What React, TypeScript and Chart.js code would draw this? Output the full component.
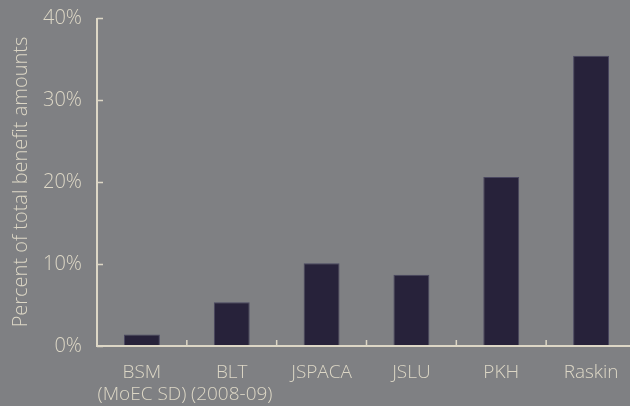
import React, { useEffect, useRef } from "react";
import { Chart, registerables } from "chart.js";

Chart.register(...registerables);

const categories: (string | string[])[] = [
  ["BSM", "(MoEC SD)"],
  ["BLT", "(2008-09)"],
  "JSPACA",
  "JSLU",
  "PKH",
  "Raskin",
];
const shares = [1.4, 5.35, 10.1, 8.7, 20.6, 35.4];
const yTicks = [0, 10, 20, 30, 40];
const yTitle = "Percent of total benefit amounts";

const BG = "#7f8083";
const BAR = "#27223a";
const BAR_EDGE = "#4a4760";
const INK = "#ddd7c6";
const FONT = "'Open Sans', 'Noto Sans', sans-serif";

const axisPlugin = {
  id: "axisMarks",
  afterDraw(chart: any) {
    const { ctx, chartArea, scales } = chart;
    const x = scales.x;
    const y = scales.y;
    ctx.save();
    ctx.strokeStyle = INK;
    ctx.lineWidth = 2;
    ctx.beginPath();
    ctx.moveTo(chartArea.left, chartArea.top);
    ctx.lineTo(chartArea.left, chartArea.bottom);
    ctx.lineTo(chartArea.right + 10, chartArea.bottom);
    ctx.stroke();
    ctx.lineWidth = 1.5;
    ctx.beginPath();
    yTicks.forEach((v) => {
      const py = Math.round(y.getPixelForValue(v)) + 0.5;
      ctx.moveTo(chartArea.left, py);
      ctx.lineTo(chartArea.left + 6, py);
    });
    for (let i = 1; i < categories.length; i++) {
      const px = (x.getPixelForValue(i - 1) + x.getPixelForValue(i)) / 2;
      ctx.moveTo(px, chartArea.bottom);
      ctx.lineTo(px, chartArea.bottom - 6);
    }
    ctx.stroke();
    ctx.restore();
  },
};

export default function App() {
  const ref = useRef<HTMLCanvasElement | null>(null);
  useEffect(() => {
    if (!ref.current) return;
    const chart = new Chart(ref.current, {
      type: "bar",
      data: {
        labels: categories,
        datasets: [
          {
            data: shares,
            backgroundColor: BAR,
            borderColor: BAR_EDGE,
            borderWidth: 1,
            barPercentage: 0.4,
            categoryPercentage: 1,
          },
        ],
      },
      options: {
        responsive: false,
        animation: false,
        layout: { padding: { left: 0, right: 4, top: 18, bottom: 0 } },
        plugins: { legend: { display: false }, tooltip: { enabled: false } },
        scales: {
          x: {
            offset: true,
            grid: { display: false, drawTicks: false },
            border: { display: false },
            ticks: {
              color: INK,
              font: { family: FONT, size: 19, weight: "300", lineHeight: 1.15 },
              padding: 16,
              maxRotation: 0,
              autoSkip: false,
            },
            afterFit(scale: any) {
              scale.height = 60;
              scale.paddingLeft = 0;
              scale.paddingRight = 0;
            },
          },
          y: {
            min: 0,
            max: 40,
            grid: { display: false, drawTicks: false },
            border: { display: false },
            ticks: {
              stepSize: 10,
              color: INK,
              font: { family: FONT, size: 20, weight: "300" },
              padding: 15,
              callback: (v: any) => v + "%",
            },
            title: {
              display: true,
              text: yTitle,
              color: INK,
              font: { family: FONT, size: 20, weight: "300" },
              padding: { top: 9, bottom: 0 },
            },
            afterFit(scale: any) {
              scale.width = 97;
              scale.paddingTop = 0;
              scale.paddingBottom = 0;
            },
          },
        },
      },
      plugins: [axisPlugin],
    });
    return () => chart.destroy();
  }, []);
  return (
    <div
      style={{
        position: "fixed",
        left: 0,
        top: 0,
        width: 630,
        height: 406,
        overflow: "hidden",
        background: BG,
      }}
    >
      <canvas ref={ref} width={640} height={406} style={{ width: 640, height: 406, display: "block" }} />
    </div>
  );
}
